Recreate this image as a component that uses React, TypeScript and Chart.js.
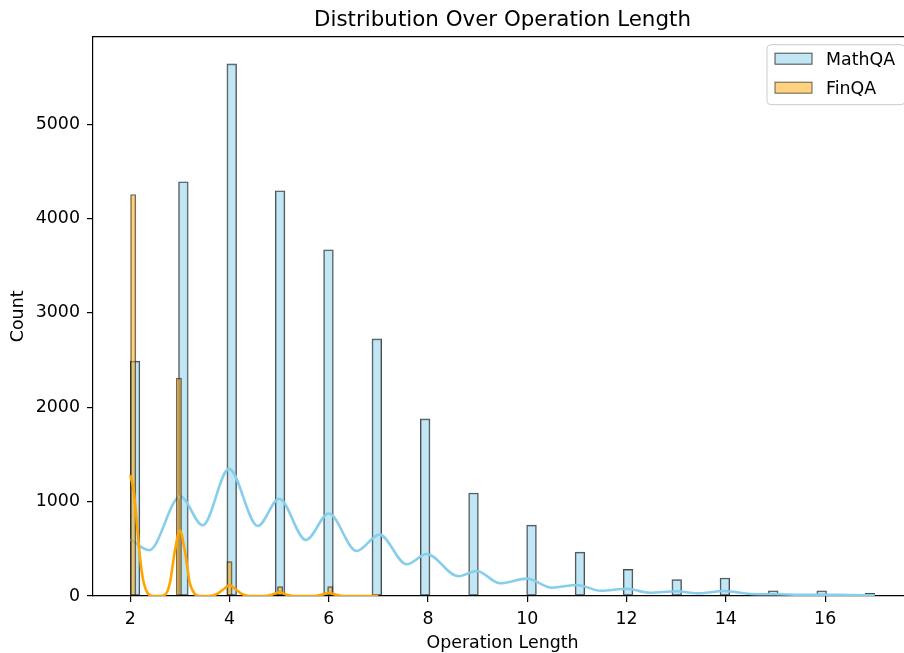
import { useEffect, useRef } from "react"
import { Chart, registerables } from "chart.js"
import type { Plugin } from "chart.js"

Chart.register(...registerables)

// histogram bins (bin centre, count)
const mathBinCenters = [2.097, 3.071, 4.045, 5.019, 5.994, 6.968, 7.942, 8.916, 10.085, 11.06, 12.03, 13.01, 13.98, 14.955, 15.93, 16.903]
const mathCounts = [2490, 4390, 5640, 4295, 3670, 2725, 1877, 1092, 752, 465, 283, 173, 191, 56, 56, 29]

const finBinCenters = [2.06, 2.98, 4.0, 5.02, 6.03]
const finCounts = [4255, 2310, 364, 99, 99]

// kde curves, sampled by eye
const mathKdeX = [2.0, 2.38, 3.01, 3.46, 3.99, 4.57, 5.0, 5.54, 6.0, 6.56, 7.02, 7.57, 7.97, 8.61, 8.98, 9.45, 10.0, 10.49, 11.0, 11.48, 12.0, 12.47, 13.0, 13.42, 13.97, 14.5, 15.0, 15.5, 16.0, 16.5, 17.0]
const mathKdeY = [600, 485, 1055, 750, 1347, 742, 1030, 594, 874, 478, 650, 336, 445, 209, 265, 135, 184, 88, 117, 55, 77, 35, 50, 28, 53, 21, 18, 14, 14, 10, 8]

const finKdeX = [2.0, 2.07, 2.13, 2.2, 2.27, 2.35, 2.45, 2.6, 2.7, 2.8, 2.9, 3.0, 3.1, 3.2, 3.3, 3.4, 3.6, 3.75, 3.88, 4.0, 4.12, 4.25, 4.4, 4.7, 4.85, 5.0, 5.15, 5.3, 5.7, 5.85, 6.0, 6.15, 6.3, 7.0]
const finKdeY = [1283, 1120, 800, 395, 145, 32, 0, 0, 12, 140, 480, 693, 480, 140, 22, 0, 0, 22, 72, 115, 72, 22, 0, 0, 14, 38, 14, 0, 0, 12, 32, 12, 0, 0]

const xTicks = [2, 4, 6, 8, 10, 12, 14, 16]
const yTicks = [0, 1000, 2000, 3000, 4000, 5000]

const FONT = '"DejaVu Sans", sans-serif'

// matplotlib-style framed legend in the upper right of the axes, plus top spine
const framePlugin: Plugin = {
  id: "frameAndLegend",
  afterDraw(chart) {
    const { ctx, chartArea } = chart
    ctx.save()
    ctx.strokeStyle = "#000"
    ctx.lineWidth = 1.2
    ctx.beginPath()
    ctx.moveTo(chartArea.left, chartArea.top)
    ctx.lineTo(chartArea.right, chartArea.top)
    ctx.lineTo(chartArea.right, chartArea.bottom)
    ctx.stroke()

    const items = chart.data.datasets.filter((d: any) => d.type === "bar").reverse()
    const w = 138
    const h = 60
    const x = chartArea.right - 7 - w
    const y = chartArea.top + 8
    ctx.fillStyle = "rgba(255,255,255,0.8)"
    ctx.strokeStyle = "#cccccc"
    ctx.lineWidth = 1
    ctx.beginPath()
    ctx.roundRect(x, y, w, h, 4)
    ctx.fill()
    ctx.stroke()

    ctx.font = `17.4px ${FONT}`
    ctx.textBaseline = "middle"
    items.forEach((d: any, i) => {
      const cy = y + 14 + i * 29
      ctx.fillStyle = "#fff"
      ctx.fillRect(x + 8, cy - 5.5, 37, 11)
      ctx.fillStyle = d.backgroundColor
      ctx.fillRect(x + 8, cy - 5.5, 37, 11)
      ctx.strokeStyle = d.borderColor
      ctx.strokeRect(x + 8, cy - 5.5, 37, 11)
      ctx.fillStyle = "#000"
      ctx.fillText(d.label, x + 59, cy + 2)
    })
    ctx.restore()
  },
}

export default function App() {
  const canvasRef = useRef<HTMLCanvasElement>(null)

  useEffect(() => {
    if (!canvasRef.current) return
    const ctx = canvasRef.current.getContext("2d")
    if (!ctx) return

    const chart = new Chart(ctx, {
      type: "bar",
      data: {
        datasets: [
          {
            type: "line",
            label: "FinQA kde",
            data: finKdeX.map((x, i) => ({ x, y: finKdeY[i] })),
            borderColor: "#ffa500",
            borderWidth: 2.6,
            pointRadius: 0,
            cubicInterpolationMode: "monotone",
            order: 1,
          },
          {
            type: "bar",
            label: "FinQA",
            data: finBinCenters.map((x, i) => ({ x, y: finCounts[i] })),
            backgroundColor: "rgba(255,165,0,0.5)",
            borderColor: "rgba(0,0,0,0.6)",
            borderWidth: 1,
            borderSkipped: false,
            barThickness: 5.3,
            grouped: false,
            order: 2,
          },
          {
            type: "line",
            label: "MathQA kde",
            data: mathKdeX.map((x, i) => ({ x, y: mathKdeY[i] })),
            borderColor: "#87ceeb",
            borderWidth: 2.6,
            pointRadius: 0,
            cubicInterpolationMode: "monotone",
            order: 3,
          },
          {
            type: "bar",
            label: "MathQA",
            data: mathBinCenters.map((x, i) => ({ x, y: mathCounts[i] })),
            backgroundColor: "rgba(135,206,235,0.5)",
            borderColor: "rgba(0,0,0,0.7)",
            borderWidth: 1,
            borderSkipped: false,
            barThickness: 9.7,
            grouped: false,
            order: 4,
          },
        ] as any,
      },
      options: {
        animation: false,
        responsive: true,
        maintainAspectRatio: false,
        layout: { padding: { left: 0, right: 8, top: 0, bottom: 0 } },
        plugins: {
          legend: { display: false },
          tooltip: { enabled: false },
          title: {
            display: true,
            text: "Distribution Over Operation Length",
            color: "#000",
            fullSize: false,
            font: { family: FONT, size: 21.4, weight: "normal" },
            padding: { top: 8, bottom: 3 },
          },
        },
        scales: {
          x: {
            type: "linear",
            min: 1.25,
            max: 17.75,
            offset: false,
            afterBuildTicks: (scale) => {
              scale.ticks = xTicks.map((value) => ({ value }))
            },
            afterFit: (scale) => {
              scale.height = 57
            },
            ticks: { color: "#000", padding: 7, font: { family: FONT, size: 17.4 } },
            grid: { offset: false, drawOnChartArea: false, drawTicks: true, tickLength: 6, color: "#000", lineWidth: 1.2 },
            border: { display: true, color: "#000", width: 1.2 },
            title: {
              display: true,
              text: "Operation Length",
              color: "#000",
              font: { family: FONT, size: 17.4 },
              padding: { top: 0, bottom: -1 },
            },
          },
          y: {
            type: "linear",
            min: 0,
            max: 5928,
            afterBuildTicks: (scale) => {
              scale.ticks = yTicks.map((value) => ({ value }))
            },
            afterFit: (scale) => {
              scale.width = 93
            },
            ticks: { color: "#000", padding: 7, font: { family: FONT, size: 17.4 }, callback: (v) => String(v) },
            grid: { drawOnChartArea: false, drawTicks: true, tickLength: 6, color: "#000", lineWidth: 1.2 },
            border: { display: true, color: "#000", width: 1.2 },
            title: {
              display: true,
              text: "Count",
              color: "#000",
              font: { family: FONT, size: 17.4 },
              padding: { top: 8, bottom: 0 },
            },
          },
        },
      },
      plugins: [framePlugin],
    })

    return () => {
      chart.destroy()
    }
  }, [])

  return (
    <div style={{ position: "fixed", left: 0, top: 0, width: 904, height: 653, overflow: "hidden", background: "#fff" }}>
      <div style={{ position: "relative", width: 920, height: 653 }}>
        <canvas ref={canvasRef}></canvas>
      </div>
    </div>
  )
}
